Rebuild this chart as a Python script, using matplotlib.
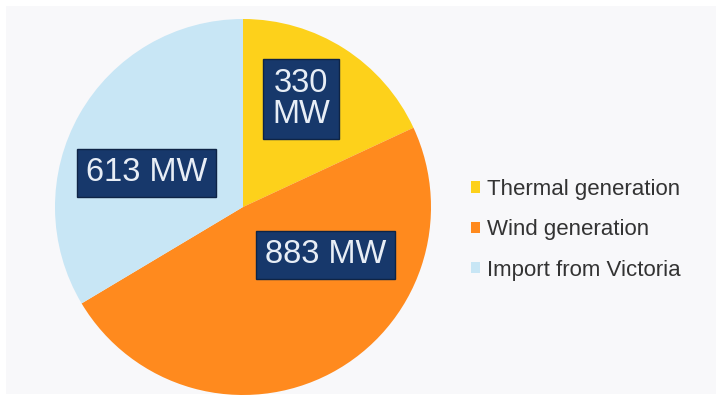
import matplotlib.pyplot as plt

# --- data ---
sources = ["Thermal generation", "Wind generation", "Import from Victoria"]
power_mw = [330, 883, 613]
colors = ["#FDD11B", "#FF8A1E", "#C8E6F5"]
box_labels = ["330\nMW", "883 MW", "613 MW"]

W, H = 724, 400
fig = plt.figure(figsize=(W / 100, H / 100), dpi=100)
fig.patch.set_facecolor("white")

# light panel behind everything
bg = fig.add_axes([6 / W, 6 / H, 710 / W, 388 / H], zorder=0)
bg.set_facecolor("#F8F8FA")
bg.set_xticks([])
bg.set_yticks([])
for s in bg.spines.values():
    s.set_visible(False)

# pie axes: centre (243, 207) px, radius 188 px
cx, cy, r = 243, 207, 188
ax = fig.add_axes([(cx - r) / W, 1 - (cy + r) / H, 2 * r / W, 2 * r / H], zorder=1)
ax.set_axis_off()

wedges, _ = ax.pie(power_mw, colors=colors, startangle=90, counterclock=False,
                   radius=1.0, wedgeprops=dict(linewidth=0))
ax.set_xlim(-1, 1)
ax.set_ylim(-1, 1)
ax.set_aspect("equal")

# label boxes
label_pos = [(0.309, 0.574), (0.441, -0.255), (-0.511, 0.181)]
for (x, y), txt in zip(label_pos, box_labels):
    ax.text(x, y, txt, ha="center", va="center", color="#E8EEF6",
            fontsize=23.5, family="Liberation Sans", linespacing=1.0,
            bbox=dict(boxstyle="square,pad=0.27", facecolor="#17386B",
                      edgecolor="#0E2446", linewidth=1))

leg = fig.legend(wedges, sources, loc="upper left",
                 bbox_to_anchor=(451 / W, 1 - 159 / H), frameon=False,
                 prop=dict(family="Liberation Sans", size=16),
                 handlelength=0.4, handleheight=0.4, handletextpad=0.3,
                 labelspacing=0.87)
for t in leg.get_texts():
    t.set_color("#333333")

plt.savefig("out.png", dpi=100, facecolor="white")
plt.close()
